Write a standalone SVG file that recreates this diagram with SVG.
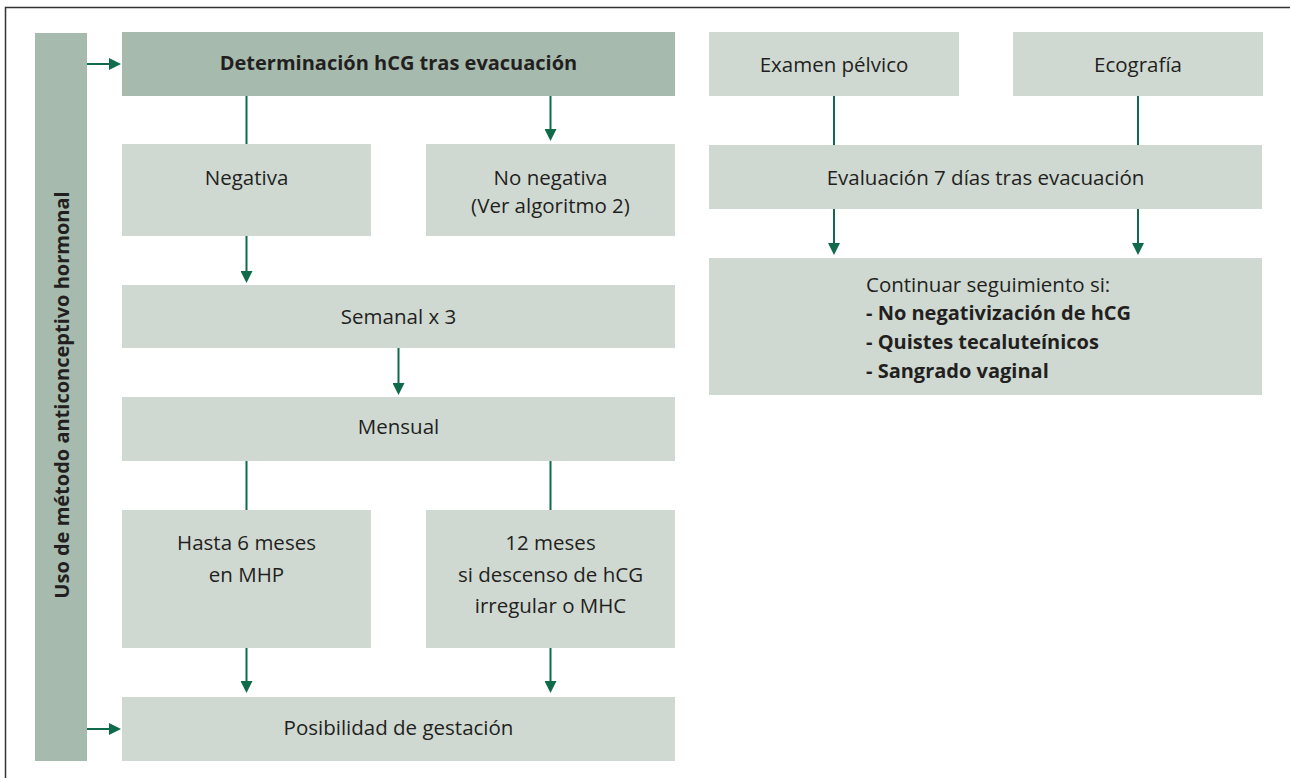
<svg xmlns="http://www.w3.org/2000/svg" width="1290" height="778" viewBox="0 0 1290 778">
  <defs>
    <marker id="ah" markerUnits="userSpaceOnUse" markerWidth="12" markerHeight="12" viewBox="0 0 12 12" refX="0" refY="6" orient="auto">
      <path d="M0,0 L12,6 L0,12 z" fill="#0f6b49"/>
    </marker>
    <style>
      .dark { fill: #a6baae; }
      .light { fill: #cfd9d2; }
      .t { font-family: "Open Sans", "Liberation Sans", sans-serif; font-size: 20.5px; fill: #231f20; text-anchor: middle; }
      .b { font-family: "Open Sans", "Liberation Sans", sans-serif; font-size: 20px; font-weight: bold; fill: #231f20; }
      .tl { font-family: "Open Sans", "Liberation Sans", sans-serif; font-size: 20.5px; fill: #231f20; }
      .ln { stroke: #0f6b49; stroke-width: 2; fill: none; }
      .arr { stroke: #0f6b49; stroke-width: 2; fill: none; marker-end: url(#ah); }
    </style>
  </defs>

  <rect width="1290" height="778" fill="#ffffff"/>

  <!-- outer frame (top and left edges) -->
  <path d="M1290,7.5 H5.5 V778" fill="none" stroke="#333333" stroke-width="1.5"/>

  <!-- vertical side band -->
  <g id="side-band">
    <rect class="dark" x="35" y="33" width="52" height="728"/>
    <text class="b" text-anchor="middle" transform="translate(68.5,395) rotate(-90)">Uso de método anticonceptivo hormonal</text>
  </g>

  <g id="hcg">
    <rect class="dark" x="122" y="32" width="553" height="64"/>
    <text class="b" x="398.5" y="70" text-anchor="middle">Determinación hCG tras evacuación</text>
  </g>

  <g id="negativa">
    <rect class="light" x="122" y="144" width="249" height="92"/>
    <text class="t" x="246.5" y="185">Negativa</text>
  </g>

  <g id="no-negativa">
    <rect class="light" x="426" y="144" width="249" height="92"/>
    <text class="t" x="550.5" y="185">No negativa</text>
    <text class="t" x="550.5" y="213">(Ver algoritmo 2)</text>
  </g>

  <g id="semanal">
    <rect class="light" x="122" y="285" width="553" height="63"/>
    <text class="t" x="398.5" y="324">Semanal x 3</text>
  </g>

  <g id="mensual">
    <rect class="light" x="122" y="397" width="553" height="64"/>
    <text class="t" x="398.5" y="434">Mensual</text>
  </g>

  <g id="hasta-6">
    <rect class="light" x="122" y="510" width="249" height="138"/>
    <text class="t" x="246.5" y="550">Hasta 6 meses</text>
    <text class="t" x="246.5" y="582">en MHP</text>
  </g>

  <g id="doce-meses">
    <rect class="light" x="426" y="510" width="249" height="138"/>
    <text class="t" x="550.5" y="550">12 meses</text>
    <text class="t" x="550.5" y="582">si descenso de hCG</text>
    <text class="t" x="550.5" y="613">irregular o MHC</text>
  </g>

  <g id="gestacion">
    <rect class="light" x="122" y="697" width="553" height="64"/>
    <text class="t" x="398.5" y="735">Posibilidad de gestación</text>
  </g>

  <g id="examen">
    <rect class="light" x="709" y="32" width="250" height="64"/>
    <text class="t" x="834" y="72">Examen pélvico</text>
  </g>

  <g id="ecografia">
    <rect class="light" x="1013" y="32" width="250" height="64"/>
    <text class="t" x="1138" y="72">Ecografía</text>
  </g>

  <g id="evaluacion">
    <rect class="light" x="709" y="145" width="553" height="64"/>
    <text class="t" x="985.5" y="185">Evaluación 7 días tras evacuación</text>
  </g>

  <g id="seguimiento">
    <rect class="light" x="709" y="258" width="553" height="137"/>
    <text class="tl" x="866" y="292">Continuar seguimiento si:</text>
    <text class="b" x="866" y="320">- No negativización de hCG</text>
    <text class="b" x="866" y="349">- Quistes tecaluteínicos</text>
    <text class="b" x="866" y="378">- Sangrado vaginal</text>
  </g>

  <g id="connectors">
    <path class="arr" d="M87,64 H109"/>
    <path class="ln" d="M246.5,96 V144"/>
    <path class="arr" d="M550.5,96 V129"/>
    <path class="arr" d="M246.5,236 V271"/>
    <path class="arr" d="M398.5,348 V383"/>
    <path class="ln" d="M246.5,461 V510"/>
    <path class="ln" d="M550.5,461 V510"/>
    <path class="arr" d="M246.5,648 V681"/>
    <path class="arr" d="M550.5,648 V681"/>
    <path class="arr" d="M87,729 H109"/>
    <path class="ln" d="M834,96 V145"/>
    <path class="ln" d="M1138,96 V145"/>
    <path class="arr" d="M834,209 V243"/>
    <path class="arr" d="M1138,209 V243"/>
  </g>
</svg>
